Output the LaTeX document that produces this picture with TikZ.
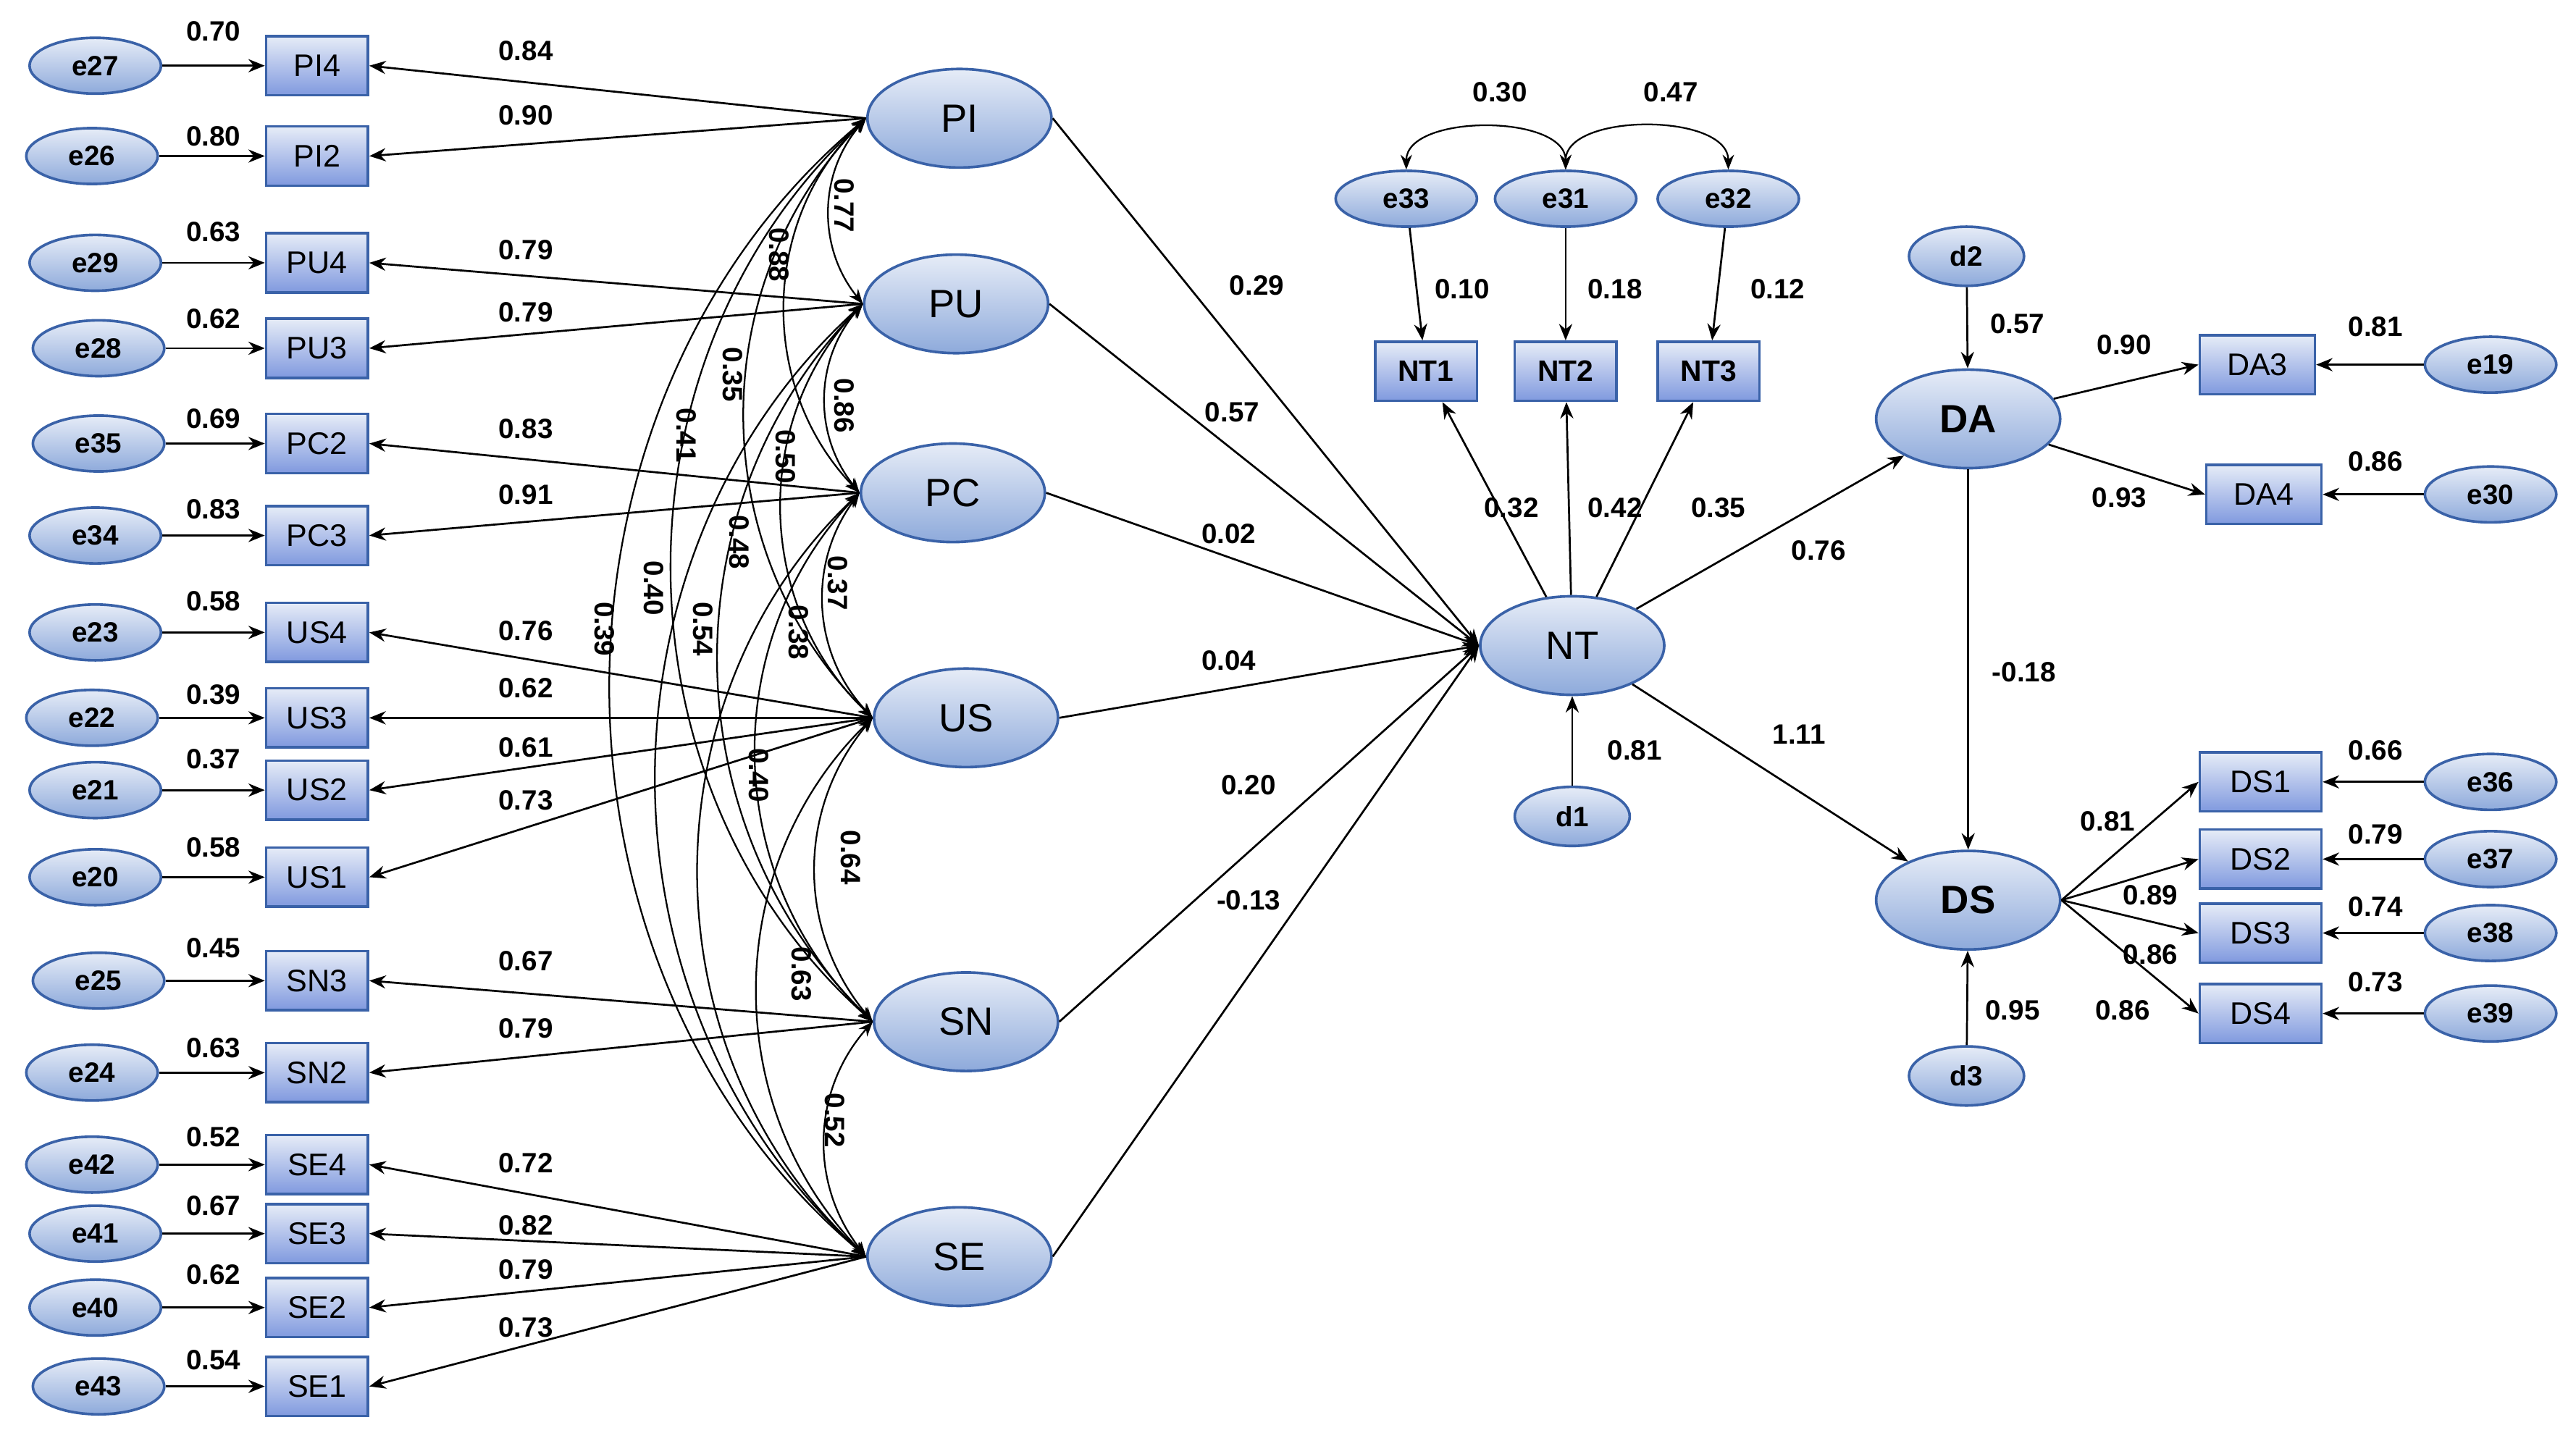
\documentclass[tikz,border=0pt]{standalone}
\usepackage{fontspec}
\setmainfont{Liberation Sans}
\usetikzlibrary{arrows.meta,shapes.geometric}
\definecolor{bd}{HTML}{3A62A8}
\definecolor{fa}{HTML}{8EAADB}
\definecolor{fb}{HTML}{E6ECF7}
\begin{document}
\begin{tikzpicture}[x=0.5pt,y=-0.5pt,
 err/.style={ellipse,draw=bd,line width=0.8pt,top color=fb,bottom color=fa,minimum width=40pt,minimum height=17pt,inner sep=0pt,font=\bfseries\fontsize{8.5}{9}\selectfont},
 dist/.style={err,minimum width=35pt,minimum height=18pt},
 obs/.style={rectangle,draw=bd,line width=0.8pt,top color=fb,bottom color=fa!90!blue,minimum width=31pt,minimum height=18pt,inner sep=0pt,font=\fontsize{9.5}{10}\selectfont},
 obsb/.style={obs,font=\bfseries\fontsize{9}{10}\selectfont},
 lat/.style={ellipse,draw=bd,line width=0.8pt,top color=fb,bottom color=fa,minimum width=56pt,minimum height=30pt,inner sep=0pt,font=\fontsize{12}{13}\selectfont},
 latb/.style={lat,font=\bfseries\fontsize{12}{13}\selectfont},
 lb/.style={font=\bfseries\fontsize{8.5}{9}\selectfont,inner sep=1pt},
 rl/.style={lb,rotate=-90},
 ar/.style={-{Stealth[length=5pt,width=4pt]},line width=0.6pt},
 cv/.style={{Stealth[length=4.5pt,width=3.5pt]}-{Stealth[length=4.5pt,width=3.5pt]},line width=0.5pt}]
\useasboundingbox (0,0) rectangle (1568,872);
% latent
\node[lat] (PI) at (584,72) {PI};
\node[lat] (PU) at (582,185) {PU};
\node[lat] (PC) at (580,300) {PC};
\node[lat] (US) at (588,437) {US};
\node[lat] (SN) at (588,622) {SN};
\node[lat] (SE) at (584,765) {SE};
% indicators
\foreach \n/\y/\e/\ex/\l/\L/\ly/\Ly/\F in {PI4/40/e27/58/0.70/0.84/19/31/PI,PI2/95/e26/56/0.80/0.90/83/70/PI,PU4/160/e29/58/0.63/0.79/141/152/PU,PU3/212/e28/60/0.62/0.79/194/190/PU,PC2/270/e35/60/0.69/0.83/255/261/PC,PC3/326/e34/58/0.83/0.91/310/301/PC,US4/385/e23/58/0.58/0.76/366/384/US,US3/437/e22/56/0.39/0.62/423/419/US,US2/481/e21/58/0.37/0.61/462/455/US,US1/534/e20/58/0.58/0.73/516/487/US,SN3/597/e25/60/0.45/0.67/577/585/SN,SN2/653/e24/56/0.63/0.79/638/626/SN,SE4/709/e42/56/0.52/0.72/692/708/SE,SE3/751/e41/58/0.67/0.82/734/746/SE,SE2/796/e40/58/0.62/0.79/776/773/SE,SE1/844/e43/60/0.54/0.73/828/808/SE}{
 \node[obs] (\n) at (193,\y) {\n};
 \node[err] (\e) at (\ex,\y) {\e};
 \draw[ar] (\e) -- (\n);
 \node[lb] (l\n) at (130,\ly) {\l};
 \node[lb] (L\n) at (320,\Ly) {\L};
 \draw[ar] (\F.west) -- (\n.east);
}
% covariances
\foreach \a/\b/\ang in {PI/PU/40,PI/PC/45,PI/US/45,PI/SN/48,PI/SE/50,PU/PC/40,PU/US/45,PU/SN/45,PU/SE/48,PC/US/40,PC/SN/45,PC/SE/47,US/SN/40,US/SE/45,SN/SE/40}{
 \draw[cv] (\a.west) to[bend right=\ang] (\b.west);
}
\foreach \t/\x/\y in {0.77/514/125,0.88/474/155,0.35/446/228,0.41/418/265,0.39/368/383,0.86/514/247,0.50/478/278,0.48/450/330,0.40/398/358,0.37/510/355,0.38/486/385,0.54/428/383,0.40/462/472,0.64/518/522,0.63/488/593,0.52/508/682}{
 \node[rl] at (\x,\y) {\t};
}
% NT
\node[lat] (NT) at (957,393) {NT};
\node[dist] (d1) at (957,497) {d1};
\draw[ar] (d1) -- (NT);
\node[lb] at (995,457) {0.81};
\foreach \s/\t/\x/\y in {PI/0.29/765/174,PU/0.57/750/251,PC/0.02/748/325,US/0.04/748/402,SN/0.20/760/478,SE/-0.13/760/548}{
 \draw[ar] (\s.east) -- (NT.west);
 \node[lb] at (\x,\y) {\t};
}
\foreach \n/\x/\e/\ex/\a/\b/\ax/\bx in {NT1/868/e33/856/0.32/0.10/920/890,NT2/953/e31/953/0.42/0.18/983/983,NT3/1040/e32/1052/0.35/0.12/1046/1082}{
 \node[obsb] (\n) at (\x,226) {\n};
 \node[err,minimum width=43pt] (\e) at (\ex,121) {\e};
 \draw[ar] (\e) -- (\n);
 \draw[ar] (NT) -- (\n);
 \node[lb] at (\ax,309) {\a};
 \node[lb] at (\bx,176) {\b};
}
\draw[cv] (e31.north) to[out=90,in=90,looseness=0.9] (e33.north);
\draw[cv] (e31.north) to[out=90,in=90,looseness=0.9] (e32.north);
\node[lb] at (913,56) {0.30};
\node[lb] at (1017,56) {0.47};
% DA DS
\node[latb] (DA) at (1198,255) {DA};
\node[latb] (DS) at (1198,548) {DS};
\node[dist] (d2) at (1197,156) {d2};
\node[dist] (d3) at (1197,655) {d3};
\draw[ar] (d2) -- (DA); \node[lb] at (1228,197) {0.57};
\draw[ar] (d3) -- (DS); \node[lb] at (1225,615) {0.95};
\draw[ar] (NT) -- (DA); \node[lb] at (1107,335) {0.76};
\draw[ar] (NT) -- (DS); \node[lb] at (1095,447) {1.11};
\draw[ar] (DA) -- (DS); \node[lb] at (1232,409) {-0.18};
\foreach \n/\x/\y/\e/\a/\ax/\ay/\b/\by in {DA3/1374/222/e19/0.90/1293/210/0.81/199,DA4/1378/301/e30/0.93/1290/303/0.86/281}{
 \node[obs,minimum width=35pt] (\n) at (\x,\y) {\n};
 \node[err] (\e) at (1516,\y) {\e};
 \draw[ar] (DA) -- (\n.west);
 \draw[ar] (\e) -- (\n);
 \node[lb] at (\ax,\ay) {\a};
 \node[lb] at (1446,\by) {\b};
}
\foreach \n/\y/\e/\a/\ax/\ay/\b/\by in {DS1/476/e36/0.81/1283/500/0.66/457,DS2/523/e37/0.89/1309/545/0.79/508,DS3/568/e38/0.86/1309/581/0.74/552,DS4/617/e39/0.86/1292/615/0.73/598}{
 \node[obs,minimum width=37pt] (\n) at (1376,\y) {\n};
 \node[err] (\e) at (1516,\y) {\e};
 \draw[ar] (DS.east) -- (\n.west);
 \draw[ar] (\e) -- (\n);
 \node[lb] at (\ax,\ay) {\a};
 \node[lb] at (1446,\by) {\b};
}
\end{tikzpicture}
\end{document}
